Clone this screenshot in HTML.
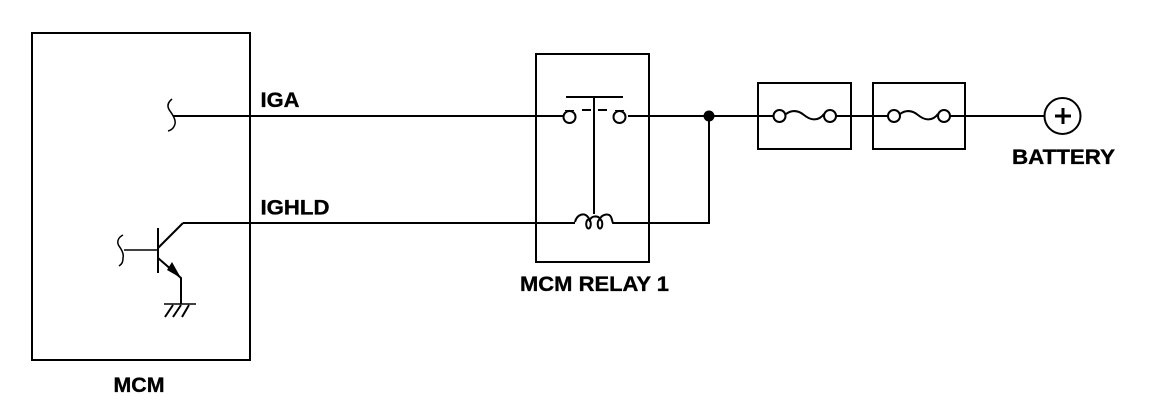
<!DOCTYPE html>
<html>
<head>
<meta charset="utf-8">
<style>
html,body{margin:0;padding:0;background:#fff;width:1152px;height:406px;overflow:hidden}
svg{display:block}
text{font-family:"Liberation Sans",sans-serif;font-weight:bold;font-size:21px;fill:#000;stroke:#000;stroke-width:.35px}
</style>
</head>
<body>
<svg width="1152" height="406" viewBox="0 0 1152 406" xmlns="http://www.w3.org/2000/svg">
<g fill="none" stroke="#000" stroke-width="2">
<!-- boxes -->
<rect x="32" y="33" width="218" height="327"/>
<rect x="536" y="54" width="113" height="208"/>
<rect x="758" y="83" width="93" height="66"/>
<rect x="873" y="83" width="92" height="66"/>
<!-- IGA wire -->
<path d="M173 116H563"/>
<path d="M172 99C167 103 167 107 170 111C173 115 176 120 175 124C174 128 172 130 168 131" stroke-width="1.500"/>
<circle cx="569.500" cy="117" r="6"/>
<circle cx="619.500" cy="117" r="6"/>
<path d="M565 110.500H574M615 110.500H624" stroke-width="1"/>
<path d="M628 116H709"/>
<path d="M566 97H623"/>
<path d="M582 110H591M598 110H607"/>
<path d="M594 97V214"/>
<!-- coil -->
<path d="M183 223H575"/>
<path d="M575 222C577 214 584 213 587 216C589 218 590 220 590 222"/>
<ellipse cx="588.500" cy="224" rx="2.300" ry="4.500"/>
<path d="M590 220C591 216 598 215 600 219"/>
<ellipse cx="600" cy="224" rx="2.300" ry="4.500"/>
<path d="M600 219C602 214 609 213 611 217C612 219 612 221 613 223H709V116"/>
<!-- fuses -->
<path d="M709 116H773"/>
<circle cx="779.500" cy="116" r="6"/>
<circle cx="830" cy="116" r="6"/>
<path d="M786 114C793 109 799 111 804 115C810 120 818 122 824 114"/>
<path d="M836 116H888"/>
<circle cx="894" cy="116" r="6"/>
<circle cx="944" cy="116" r="6"/>
<path d="M900 114C907 109 913 111 918 115C924 120 932 122 938 114"/>
<path d="M950 116H1045"/>
<circle cx="1062.500" cy="116" r="18"/>
<path d="M1055 116H1071M1063 108V124" stroke-width="3"/>
<!-- transistor -->
<path d="M183 223L158 248"/>
<path d="M158 228V273"/>
<path d="M124 250H158" stroke-width="1.500"/>
<path d="M123 235C117 238 117 243 119 246C122 250 124 254 123 258C123 262 122 264 119 266" stroke-width="1.500"/>
<path d="M158 258L181 278V304"/>
<path d="M164 304H196" stroke-width="1.500"/>
<path d="M173 305L165 317M181 305L173 317M189 305L182 317"/>
</g>
<circle cx="709" cy="116" r="5.500" fill="#000"/>
<path d="M167 270L181 278L172 262Z" fill="#000"/>
<text x="260.500" y="107" textLength="39" lengthAdjust="spacingAndGlyphs">IGA</text>
<text x="260.500" y="214.500" textLength="69" lengthAdjust="spacingAndGlyphs">IGHLD</text>
<text x="520" y="291" textLength="149" lengthAdjust="spacingAndGlyphs">MCM RELAY 1</text>
<text x="113.500" y="392" textLength="51" lengthAdjust="spacingAndGlyphs">MCM</text>
<text x="1012" y="164" textLength="103" lengthAdjust="spacingAndGlyphs">BATTERY</text>
</svg>
</body>
</html>
